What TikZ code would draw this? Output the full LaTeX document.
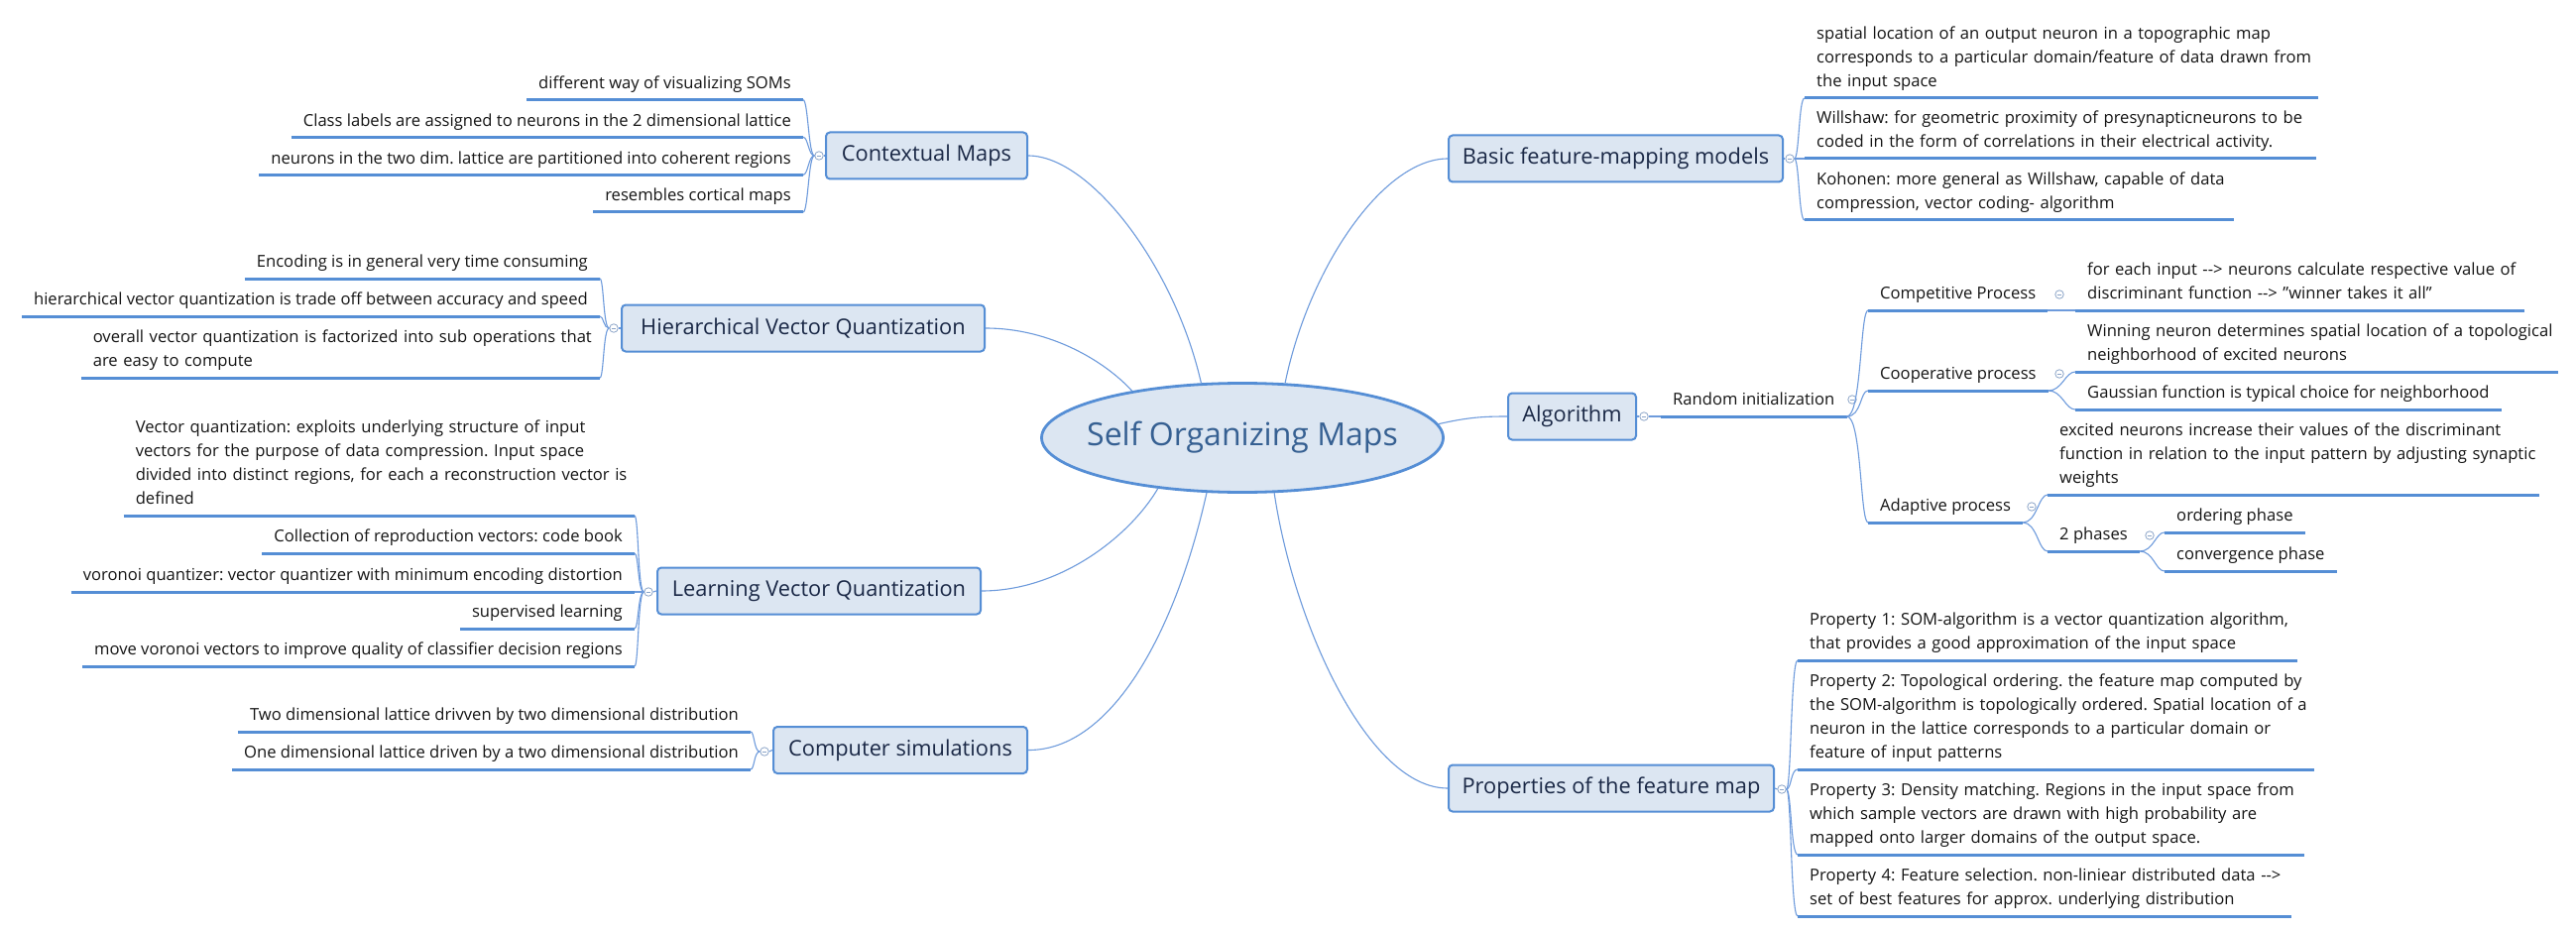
\documentclass[tikz,border=0pt]{standalone}
\usepackage{fontspec}
\setmainfont{Open Sans}
\usetikzlibrary{shapes.geometric}
\frenchspacing
\definecolor{boxfill}{RGB}{220,230,242}
\definecolor{boxdraw}{RGB}{85,142,213}
\definecolor{ulcol}{RGB}{85,142,213}
\definecolor{conncol}{RGB}{110,155,220}
\definecolor{boxtext}{RGB}{26,40,70}
\definecolor{roottext}{RGB}{54,96,146}
\definecolor{leaftext}{RGB}{20,20,20}
\definecolor{knobcol}{RGB}{140,165,200}
\newcommand\lfnt{\fontsize{16.6}{24}\selectfont}
\newcommand\bxfnt{\fontsize{21.8}{26}\selectfont}
\newcommand\rtfnt{\fontsize{32}{38}\selectfont}
\newcommand\lvL[1]{\begin{tabular}[b]{@{}l@{}}#1\end{tabular}}
\newcommand\arr{-\kern0pt-\kern0pt>}
\newcommand\brk[4]{\draw[conn] (#1) .. controls ([xshift=#3]#1) and ([xshift=#4]#2) .. (#2);}
\begin{document}
\begin{tikzpicture}[x=1pt,y=-1pt,
  box/.style={draw=boxdraw, line width=2pt, fill=boxfill, rounded corners=4pt, font=\bxfnt, text=boxtext, minimum height=47pt, inner xsep=0pt},
  leaf/.style={font=\lfnt, text=leaftext, inner xsep=12pt, inner ysep=3.8pt},
  uline/.style={draw=ulcol, line width=3pt},
  conn/.style={draw=conncol, line width=1.1pt},
  knob/.style={circle, draw=knobcol, line width=0.8pt, fill=white, minimum size=8.5pt, inner sep=0pt,
    path picture={\draw[knobcol, line width=0.8pt] ([xshift=-2.4pt]path picture bounding box.center) -- ([xshift=2.4pt]path picture bounding box.center);}}
]
\useasboundingbox (0,0) rectangle (2598,941);
\fill[white] (0,0) rectangle (2598,941);

% root
\node[ellipse, draw=boxdraw, line width=2.8pt, fill=boxfill, minimum width=405pt, minimum height=110pt, inner sep=0pt, font=\rtfnt, text=roottext] (root) at (1253,441.5) {\makebox[0pt]{Self Organizing Maps}};

% main boxes
\node[box, minimum width=203pt] (cm) at (934.5,157) {Contextual Maps};
\node[box, minimum width=366pt] (hvq) at (810,331) {Hierarchical Vector Quantization};
\node[box, minimum width=326pt] (lvq) at (826,596) {Learning Vector Quantization};
\node[box, minimum width=256pt] (cs) at (908,756.5) {Computer simulations};
\node[box, minimum width=337pt] (bfm) at (1629.5,160) {Basic feature-mapping models};
\node[box, minimum width=129pt] (alg) at (1585.5,420) {Algorithm};
\node[box, minimum width=328pt] (prop) at (1625,795) {Properties of the feature map};

% knobs
\node[knob] (cmk) at (826,157) {};
\node[knob] (hvqk) at (619,331) {};
\node[knob] (lvqk) at (654,597) {};
\node[knob] (csk) at (771,758) {};
\node[knob] (bfmk) at (1805,160) {};
\node[knob] (algk) at (1658,420) {};
\node[knob] (propk) at (1797,796) {};
\node[knob] (rndk) at (1868,403) {};
\node[knob] (compk) at (2077,297) {};
\node[knob] (coopk) at (2077,377) {};
\node[knob] (adapk) at (2049,511) {};
\node[knob] (phk) at (2168,540) {};

% left leaves
\node[leaf, anchor=south east] (cm1) at (810,100.7) {\lvL{different way of visualizing SOMs}};
\node[leaf, anchor=south east] (cm2) at (810,138.3) {\lvL{Class labels are assigned to neurons in the 2 dimensional lattice}};
\node[leaf, anchor=south east] (cm3) at (810,176.3) {\lvL{neurons in the two dim. lattice are partitioned into coherent regions}};
\node[leaf, anchor=south east] (cm4) at (810,214) {\lvL{resembles cortical maps}};

\node[leaf, anchor=south east] (h1) at (605,281) {\lvL{Encoding is in general very time consuming}};
\node[leaf, anchor=south east] (h2) at (605,319) {\lvL{hierarchical vector quantization is trade off between accuracy and speed}};
\node[leaf, anchor=south east, text width=499pt] (h3) at (605,381) {\lvL{overall vector quantization is factorized into sub operations that\\are easy to compute}};

\node[leaf, anchor=south east, text width=491pt] (l1) at (640,520) {\lvL{Vector quantization: exploits underlying structure of input\\vectors for the purpose of data compression. Input space\\divided into distinct regions, for each a reconstruction vector is\\defined}};
\node[leaf, anchor=south east] (l2) at (640,558) {\lvL{Collection of reproduction vectors: code book}};
\node[leaf, anchor=south east] (l3) at (640,597) {\lvL{voronoi quantizer: vector quantizer with minimum encoding distortion}};
\node[leaf, anchor=south east] (l4) at (640,634) {\lvL{supervised learning}};
\node[leaf, anchor=south east] (l5) at (640,672) {\lvL{move voronoi vectors to improve quality of classifier decision regions}};

\node[leaf, anchor=south east] (s1) at (757,738) {\lvL{Two dimensional lattice drivven by two dimensional distribution}};
\node[leaf, anchor=south east] (s2) at (757,776) {\lvL{One dimensional lattice driven by a two dimensional distribution}};

% right leaves
\node[leaf, anchor=south west, text width=494pt] (b1) at (1820,99) {\lvL{spatial location of an output neuron in a topographic map\\corresponds to a particular domain/feature of data drawn from\\the input space}};
\node[leaf, anchor=south west, text width=492pt] (b2) at (1820,160) {\lvL{Willshaw: for geometric proximity of presynapticneurons to be\\coded in the form of correlations in their electrical activity.}};
\node[leaf, anchor=south west, text width=409pt] (b3) at (1820,222) {\lvL{Kohonen: more general as Willshaw, capable of data\\compression, vector coding- algorithm}};

\node[leaf, anchor=south west] (rnd) at (1675,420) {\lvL{Random initialization}};
\node[leaf, anchor=south west] (comp) at (1884,313) {\lvL{Competitive Process}};
\node[leaf, anchor=south west, text width=429pt] (c1) at (2093,313) {\lvL{for each input \arr{} neurons calculate respective value of\\discriminant function \arr{} "winner takes it all"}};
\node[leaf, anchor=south west] (coop) at (1884,394) {\lvL{Cooperative process}};
\node[leaf, anchor=south west, text width=463pt] (co1) at (2093,375) {\lvL{Winning neuron determines spatial location of a topological\\neighborhood of excited neurons}};
\node[leaf, anchor=south west] (co2) at (2093,413) {\lvL{Gaussian function is typical choice for neighborhood}};
\node[leaf, anchor=south west] (adap) at (1884,527) {\lvL{Adaptive process}};
\node[leaf, anchor=south west, text width=472pt] (ad1) at (2065,499) {\lvL{excited neurons increase their values of the discriminant\\function in relation to the input pattern by adjusting synaptic\\weights}};
\node[leaf, anchor=south west] (ph) at (2065,556) {\lvL{2 phases}};
\node[leaf, anchor=south west] (ph1) at (2183,537) {\lvL{ordering phase}};
\node[leaf, anchor=south west] (ph2) at (2183,576) {\lvL{convergence phase}};

\node[leaf, anchor=south west, text width=480pt] (p1) at (1813,666) {\lvL{Property 1: SOM-algorithm is a vector quantization algorithm,\\that provides a good approximation of the input space}};
\node[leaf, anchor=south west, text width=497pt] (p2) at (1813,776) {\lvL{Property 2: Topological ordering. the feature map computed by\\the SOM-algorithm is topologically ordered. Spatial location of a\\neuron in the lattice corresponds to a particular domain or\\feature of input patterns}};
\node[leaf, anchor=south west, text width=487pt] (p3) at (1813,862) {\lvL{Property 3: Density matching. Regions in the input space from\\which sample vectors are drawn with high probability are\\mapped onto larger domains of the output space.}};
\node[leaf, anchor=south west, text width=474pt] (p4) at (1813,924) {\lvL{Property 4: Feature selection. non-liniear distributed data \arr\\set of best features for approx. underlying distribution}};

% underlines
\foreach \n in {cm1,cm2,cm3,cm4,h1,h2,h3,l1,l2,l3,l4,l5,s1,s2,b1,b2,b3,rnd,comp,c1,coop,co1,co2,adap,ad1,ph,ph1,ph2,p1,p2,p3,p4}
  \draw[uline] (\n.south west) -- (\n.south east);

% root connectors
\draw[conn] (cm.east) .. controls (1100,157) and (1185,270) .. (root.127.5);
\draw[conn] (root.52.5) .. controls (1320,270) and (1395,160) .. (bfm.west);
\draw[conn] (hvq.east) .. controls (1060,331) and (1115,365) .. (root.157);
\draw[conn] (lvq.east) .. controls (1070,596) and (1140,540) .. (root.211);
\draw[conn] (cs.east) .. controls (1120,757) and (1185,640) .. (root.237);
\draw[conn] (root.300) .. controls (1305,630) and (1380,795) .. (prop.west);
\draw[conn] (root.4.5) .. controls (1480,421) and (1495,420) .. (alg.west);

% box to knob
\draw[conn] (cm.west) -- (cmk.east);
\draw[conn] (hvq.west) -- (hvqk.east);
\draw[conn] (lvq.west) -- (lvqk.east);
\draw[conn] (cs.west) -- (csk.east);
\draw[conn] (bfm.east) -- (bfmk.west);
\draw[conn] (alg.east) -- (algk.west);
\draw[conn] (prop.east) -- (propk.west);

% brackets left
\foreach \c in {cm1,cm2,cm3,cm4} {\brk{cmk.west}{\c.south east}{-6pt}{5pt}}
\foreach \c in {h1,h2,h3} {\brk{hvqk.west}{\c.south east}{-6pt}{4pt}}
\foreach \c in {l1,l2,l3,l4,l5} {\brk{lvqk.west}{\c.south east}{-6pt}{4pt}}
\foreach \c in {s1,s2} {\brk{csk.west}{\c.south east}{-6pt}{4pt}}
% brackets right
\foreach \c in {b1,b2,b3} {\brk{bfmk.east}{\c.south west}{5pt}{-6pt}}
\foreach \c in {p1,p2,p3,p4} {\brk{propk.east}{\c.south west}{5pt}{-7pt}}
\draw[conn] (algk.east) -- (rnd.south west);
\foreach \c in {comp,coop,adap} {\brk{rnd.south east}{\c.south west}{15pt}{-8pt}}
\draw[conn] (comp.south east) -- (c1.south west);
\foreach \c in {co1,co2} {\brk{coop.south east}{\c.south west}{14pt}{-10pt}}
\foreach \c in {ad1,ph} {\brk{adap.south east}{\c.south west}{14pt}{-9pt}}
\foreach \c in {ph1,ph2} {\brk{ph.south east}{\c.south west}{14pt}{-9pt}}
\end{tikzpicture}
\end{document}
